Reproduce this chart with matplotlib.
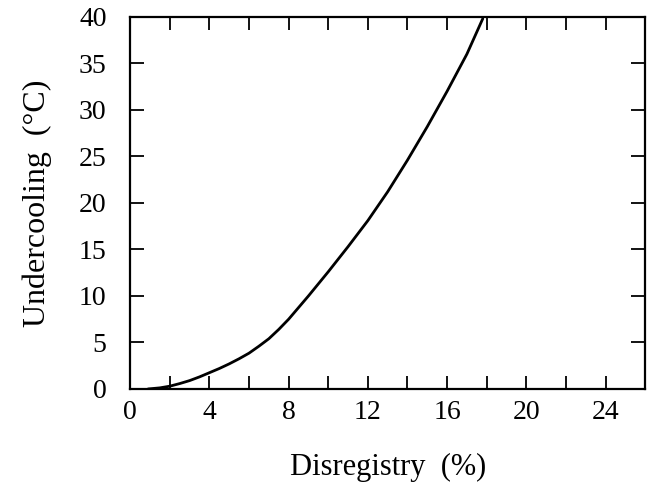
import matplotlib
matplotlib.use("Agg")
import matplotlib.pyplot as plt
from matplotlib.ticker import MultipleLocator

disregistry = [0.9, 1.5, 2, 2.5, 3, 3.5, 4, 4.5, 5, 5.5, 6, 6.5, 7, 7.5, 8, 8.5, 9, 9.5, 10, 11, 12, 13, 14, 15, 16, 17, 17.8]
undercooling = [0, 0.12, 0.3, 0.58, 0.9, 1.3, 1.75, 2.2, 2.7, 3.25, 3.85, 4.6, 5.4, 6.4, 7.5, 8.75, 10.0, 11.3, 12.6, 15.3, 18.1, 21.2, 24.6, 28.2, 32.0, 36.0, 39.8]
x_ticks = [0, 4, 8, 12, 16, 20, 24]
y_ticks = [0, 5, 10, 15, 20, 25, 30, 35, 40]

plt.rcParams['font.family'] = ['Liberation Serif', 'DejaVu Serif']

fig = plt.figure(figsize=(6.51, 4.82), dpi=100)
ax = fig.add_axes([0.2, 0.193, 0.791, 0.772])
ax.plot(disregistry, undercooling, color='black', lw=2.0, solid_capstyle='round', solid_joinstyle='round')
ax.set_xlim(0, 26)
ax.set_ylim(0, 40)
ax.set_xticks(x_ticks)
ax.set_yticks(y_ticks)
ax.xaxis.set_minor_locator(MultipleLocator(2))
for s in ax.spines.values():
    s.set_linewidth(1.6)
ax.tick_params(axis='x', which='both', direction='in', top=True, length=9.5, width=1.3, labelsize=20, pad=8)
ax.tick_params(axis='y', which='both', direction='in', right=True, length=10, width=1.3, labelsize=20, pad=17)
ax.set_xlabel('Disregistry  (%)', fontsize=22, labelpad=20)
ax.set_ylabel('Undercooling  (°C)', fontsize=23, labelpad=19)
fig.savefig('out.png', dpi=100)
